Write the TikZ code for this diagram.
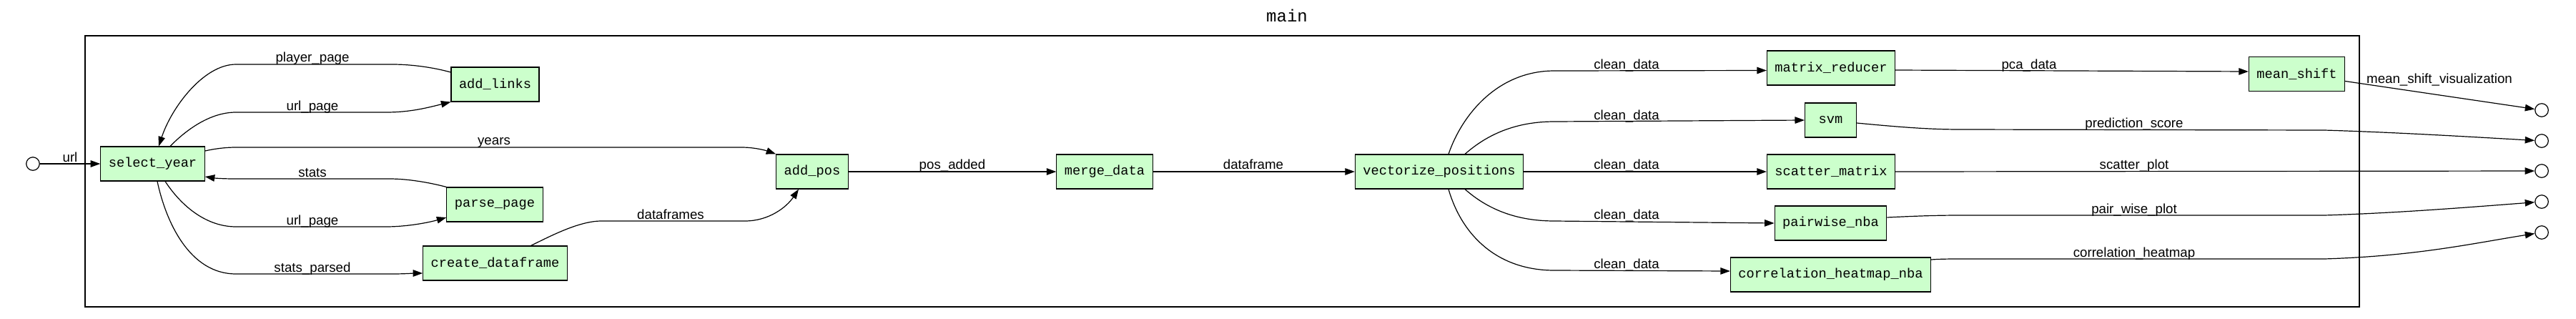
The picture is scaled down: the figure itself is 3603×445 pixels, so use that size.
\documentclass[tikz,border=0pt]{standalone}
\usepackage{fontspec}
\setmainfont{Liberation Sans}
\setmonofont{Liberation Mono}
\usetikzlibrary{arrows.meta,calc}
\definecolor{nodefill}{RGB}{204,255,204}
\begin{document}
\begin{tikzpicture}[x=1pt,y=-1pt,
  fn/.style={draw=black,line width=1.1pt,fill=nodefill,rectangle,minimum height=48pt,minimum width=72pt,inner xsep=11pt,inner ysep=0pt,font=\fontsize{18.7}{22}\ttfamily},
  io/.style={circle,draw=black,line width=1.2pt,fill=white,minimum size=18.5pt,inner sep=0pt},
  lbl/.style={anchor=base,inner sep=0pt,font=\fontsize{18.7}{22}\selectfont},
  edge/.style={draw=black,line width=1.2pt,-{Triangle[length=13.5pt,width=9.5pt]}},
  frame/.style={draw=black,line width=2.2pt,rectangle,inner sep=0pt}
]
\useasboundingbox (0,0) rectangle (3603,445);
\node[frame,minimum width=3181pt,minimum height=379pt] (cluster) at (1709.5,239.5) {};
\node[anchor=base,inner sep=0pt,font=\fontsize{24}{28}\ttfamily] (title) at (1800,30) {main};

% nodes
\node[io] (in) at (46,229) {};
\node[fn] (sy) at (213.5,229) {select\_year};
\node[fn] (al) at (692.5,118) {add\_links};
\node[fn] (pp) at (692,286) {parse\_page};
\node[fn] (cd) at (692.5,368) {create\_dataframe};
\node[fn] (ap) at (1136,240) {add\_pos};
\node[fn] (md) at (1545,240) {merge\_data};
\node[fn] (vp) at (2013,240) {vectorize\_positions};
\node[fn] (mr) at (2561,95) {matrix\_reducer};
\node[fn] (svm) at (2560.5,168) {svm};
\node[fn] (sm) at (2561,240) {scatter\_matrix};
\node[fn] (pn) at (2560.5,312) {pairwise\_nba};
\node[fn] (ch) at (2560.5,384) {correlation\_heatmap\_nba};
\node[fn] (ms) at (3212.5,103.5) {mean\_shift};
\node[io] (o1) at (3555,154) {};
\node[io] (o2) at (3555,197) {};
\node[io] (o3) at (3555,239) {};
\node[io] (o4) at (3555,282) {};
\node[io] (o5) at (3555,325) {};

% edges
\draw[edge] (in) -- (sy.west);
\draw[edge] ($(al.west)+(0,-17)$) .. controls (605,94) and (575,90) .. (549,90) -- (330,90) .. controls (285,90) and (240,150) .. ($(sy.north)+(8.5,0)$);
\draw[edge] ($(sy.north)+(24.5,0)$) .. controls (262,180) and (295,157) .. (330,157) -- (540,157) .. controls (575,157) and (600,150) .. (al.south west);
\draw[edge] ($(sy.east)+(0,-18)$) .. controls (300,208) and (315,206) .. (330,206) -- (1037,206) .. controls (1055,206) and (1070,210) .. (ap.north west);
\draw[edge] (pp.north west) .. controls (600,255) and (570,250) .. (545,250) -- (330,250) .. controls (310,250) and (300,249) .. ($(sy.east)+(0,18)$);
\draw[edge] ($(sy.south)+(17.5,0)$) .. controls (255,290) and (290,317) .. (330,317) -- (540,317) .. controls (570,317) and (600,311) .. ($(pp.west)+(0,18)$);
\draw[edge] ($(sy.south)+(6.5,0)$) .. controls (232,310) and (265,383) .. (330,383) -- (549,383) .. controls (565,383) and (580,382) .. ($(cd.west)+(0,14)$);
\draw[edge] ($(cd.north)+(50,0)$) .. controls (770,330) and (810,309) .. (841,309) -- (1042,309) .. controls (1075,309) and (1100,290) .. ($(ap.south)+(-19,0)$);
\draw[edge] (ap.east) -- (md.west);
\draw[edge] (md.east) -- (vp.west);
\draw[edge] ($(vp.north)+(13,0)$) .. controls (2045,160) and (2095,99) .. (2174,99) -- ($(mr.west)+(0,3.5)$);
\draw[edge] ($(vp.north)+(36,0)$) .. controls (2080,188) and (2120,170) .. (2174,170) -- (svm.west);
\draw[edge] (vp.east) -- (sm.west);
\draw[edge] ($(vp.south)+(36,0)$) .. controls (2080,292) and (2120,309) .. (2174,309) -- (pn.west);
\draw[edge] ($(vp.south)+(13,0)$) .. controls (2045,330) and (2095,378) .. (2174,378) -- ($(ch.west)+(0,-5)$);
\draw[edge] ($(mr.east)+(0,3)$) -- ($(ms.west)+(0,-3.5)$);
\draw[edge] ($(ms.east)+(0,10)$) -- (o1);
\draw[edge] ($(svm.east)+(0,4)$) .. controls (2660,178) and (2700,181) .. (2742,181) -- (3251,182) .. controls (3350,185) and (3450,191) .. (o2);
\draw[edge] (sm.east) -- (o3);
\draw[edge] ($(pn.east)+(0,-8)$) .. controls (2680,302) and (2710,301) .. (2742,301) -- (3251,301) .. controls (3350,298) and (3450,290) .. (o4);
\draw[edge] ($(ch.east)+(0,-21)$) .. controls (2715,362) and (2730,362) .. (2742,362) -- (3251,362) .. controls (3380,358) and (3460,340) .. (o5);

% labels
\node[lbl] (l1) at (98,226) {url};
\node[lbl] (l2) at (437,86) {player\_page};
\node[lbl] (l3) at (437,154) {url\_page};
\node[lbl] (l4) at (691,202) {years};
\node[lbl] (l5) at (437,247) {stats};
\node[lbl] (l6) at (437,314) {url\_page};
\node[lbl] (l7) at (437,380) {stats\_parsed};
\node[lbl] (l8) at (938,306) {dataframes};
\node[lbl] (l9) at (1332,236) {pos\_added};
\node[lbl] (l10) at (1753,236) {dataframe};
\node[lbl] (l11) at (2275,96) {clean\_data};
\node[lbl] (l12) at (2275,167) {clean\_data};
\node[lbl] (l13) at (2275,236) {clean\_data};
\node[lbl] (l14) at (2275,306) {clean\_data};
\node[lbl] (l15) at (2275,375) {clean\_data};
\node[lbl] (l16) at (2838,96) {pca\_data};
\node[lbl] (l17) at (3412,116) {mean\_shift\_visualization};
\node[lbl] (l18) at (2985,178) {prediction\_score};
\node[lbl] (l19) at (2985,236) {scatter\_plot};
\node[lbl] (l20) at (2985,298) {pair\_wise\_plot};
\node[lbl] (l21) at (2985,359) {correlation\_heatmap};
\end{tikzpicture}
\end{document}
